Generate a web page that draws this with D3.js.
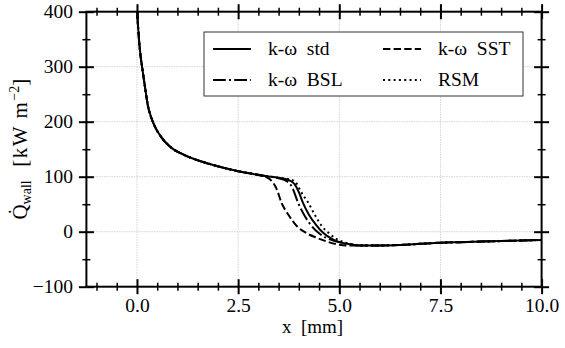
<!DOCTYPE html>
<html>
<head>
<meta charset="utf-8">
<script src="https://cdn.jsdelivr.net/npm/d3@7"></script>
<style>
body { margin: 0; background: #fff; }
</style>
</head>
<body>
<div id="idChart"></div>
<script>
let canvas_w = 565;
let canvas_h = 348;

// Data (x in mm, wall heat flux in kW/m^2)
// -------------------
let head_pts = [
   [0.00, 440], [0.01, 400], [0.04, 360], [0.08, 325], [0.13, 298],
   [0.20, 262], [0.27, 229], [0.35, 208], [0.45, 190], [0.60, 172],
   [0.86, 152], [1.10, 142], [1.38, 133], [1.80, 123], [2.21, 115],
   [2.50, 110], [2.87, 105]
];
let tail_pts = [
   [5.50, -25], [6.00, -25], [6.50, -24], [7.00, -22], [7.50, -20],
   [8.00, -19], [8.50, -18], [9.00, -17], [9.50, -16], [10.00, -15]
];
let std_pts = [
   [3.20, 101], [3.50, 98], [3.78, 93], [3.90, 86], [4.00, 72], [4.10, 53],
   [4.25, 31], [4.44, 11], [4.60, -2], [4.84, -14], [5.00, -19], [5.20, -22]
];
let bsl_pts = [
   [3.20, 101], [3.50, 97], [3.70, 92], [3.82, 83], [3.98, 53], [4.15, 28],
   [4.31, 11], [4.50, -3], [4.77, -14], [5.00, -19], [5.25, -23]
];
let sst_pts = [
   [3.05, 102], [3.20, 99], [3.32, 93], [3.45, 78], [3.57, 53], [3.75, 30],
   [3.94, 11], [4.20, -3], [4.44, -11], [4.70, -18], [4.95, -23], [5.20, -25]
];
let rsm_pts = [
   [3.20, 101], [3.50, 98], [3.80, 95], [3.95, 87], [4.05, 73], [4.23, 53],
   [4.40, 30], [4.56, 11], [4.75, -3], [4.95, -14], [5.15, -20], [5.35, -23]
];

let series_names = ["k-ω  std", "k-ω  SST", "k-ω  BSL", "RSM"];
let series_dash = ["none", "7.4,3.2", "12.8,3.2,2,3.2", "2,3.3"];
let series_pts = [std_pts, sst_pts, bsl_pts, rsm_pts];

let x_domain = [-1.25, 10];
let y_domain = [-100, 400];
let x_major = [0, 2.5, 5, 7.5, 10];
let x_minor = d3.range(-1, 10.01, 0.5);
let y_major = [-100, 0, 100, 200, 300, 400];
let y_minor = d3.range(-100, 401, 50);
// -------------------

let plot_x0 = 86.4;
let plot_x1 = 541.6;
let plot_y0 = 11.7;
let plot_y1 = 286.7;
let font_fam = "Liberation Serif";
let font_size = 19.5;

let svg_obj = d3.select("#idChart")
                .append("svg")
                  .attr("width", canvas_w)
                  .attr("height", canvas_h)
                  .attr("xmlns", "http://www.w3.org/2000/svg");

let x_scale = d3.scaleLinear().domain(x_domain).range([plot_x0, plot_x1]);
let y_scale = d3.scaleLinear().domain(y_domain).range([plot_y1, plot_y0]);

// Grid
// -------------------
let grid_g = svg_obj.append("g")
   .attr("stroke", "#d4d4d4")
   .attr("stroke-width", 1)
   .attr("stroke-dasharray", "1.5,1");
grid_g.selectAll("line.gx")
   .data(x_major.filter(d => d < 10))
   .enter().append("line")
   .attr("x1", d => x_scale(d)).attr("x2", d => x_scale(d))
   .attr("y1", plot_y0).attr("y2", plot_y1);
grid_g.selectAll("line.gy")
   .data(y_major.filter(d => d > -100 && d < 400))
   .enter().append("line")
   .attr("x1", plot_x0).attr("x2", plot_x1)
   .attr("y1", d => y_scale(d)).attr("y2", d => y_scale(d));
// -------------------

// Curves
// -------------------
svg_obj.append("clipPath").attr("id", "plotClip")
   .append("rect")
   .attr("x", plot_x0).attr("y", plot_y0)
   .attr("width", plot_x1 - plot_x0).attr("height", plot_y1 - plot_y0);

let line_gen = d3.line()
   .x(d => x_scale(d[0]))
   .y(d => y_scale(d[1]))
   .curve(d3.curveMonotoneX);

let curves_g = svg_obj.append("g").attr("clip-path", "url(#plotClip)");
series_pts.forEach((pts, i) => {
   let all_pts = head_pts.concat(pts, tail_pts);
   curves_g.append("path")
      .attr("d", line_gen(all_pts))
      .attr("fill", "none")
      .attr("stroke", "#000")
      .attr("stroke-width", 2)
      .attr("stroke-dasharray", series_dash[i]);
});
// -------------------

// Axes (ticks in and out on all four sides)
// -------------------
function draw_axis(axis_fn, scale, vals, size, width, labels, transform, fmt, pad) {
   let ax_out = axis_fn(scale).tickValues(vals).tickSizeOuter(0).tickSize(size)
      .tickPadding(pad).tickFormat(labels ? fmt : "");
   let ax_in = axis_fn(scale).tickValues(vals).tickSizeOuter(0).tickSize(-size)
      .tickFormat("");
   [ax_out, ax_in].forEach(ax => {
      let g = svg_obj.append("g").attr("transform", transform).call(ax)
         .attr("font-family", font_fam);
      g.select(".domain").remove();
      g.selectAll(".tick line").attr("stroke", "#000").attr("stroke-width", width);
      g.selectAll(".tick text")
         .attr("font-size", font_size)
         .attr("fill", "#000");
   });
}

let x_fmt = d3.format(".1f");
let y_fmt = d3.format("d");
let x_minor_only = x_minor.filter(d => x_major.indexOf(d) < 0);
let y_minor_only = y_minor.filter(d => y_major.indexOf(d) < 0);

draw_axis(d3.axisBottom, x_scale, x_major, 7.5, 2, true, `translate(0,${plot_y1})`, x_fmt, 3.5);
draw_axis(d3.axisBottom, x_scale, x_minor_only, 4, 1.5, false, `translate(0,${plot_y1})`, x_fmt, 3.5);
draw_axis(d3.axisTop, x_scale, x_major, 7.5, 2, false, `translate(0,${plot_y0})`, x_fmt, 3.5);
draw_axis(d3.axisTop, x_scale, x_minor_only, 4, 1.5, false, `translate(0,${plot_y0})`, x_fmt, 3.5);
draw_axis(d3.axisLeft, y_scale, y_major, 7.5, 2, true, `translate(${plot_x0},0)`, y_fmt, 6);
draw_axis(d3.axisLeft, y_scale, y_minor_only, 4, 1.5, false, `translate(${plot_x0},0)`, y_fmt, 6);
draw_axis(d3.axisRight, y_scale, y_major, 7.5, 2, false, `translate(${plot_x1},0)`, y_fmt, 6);
draw_axis(d3.axisRight, y_scale, y_minor_only, 4, 1.5, false, `translate(${plot_x1},0)`, y_fmt, 6);

// frame
svg_obj.append("rect")
   .attr("x", plot_x0).attr("y", plot_y0)
   .attr("width", plot_x1 - plot_x0).attr("height", plot_y1 - plot_y0)
   .attr("fill", "none")
   .attr("stroke", "#000")
   .attr("stroke-width", 2);
// -------------------

// Axis labels
// -------------------
svg_obj.append("text")
   .attr("x", 312.5)
   .attr("y", 333)
   .attr("text-anchor", "middle")
   .attr("font-family", font_fam)
   .attr("font-size", 19)
   .attr("xml:space", "preserve")
   .text("x  [mm]");

let ylab = svg_obj.append("text")
   .attr("transform", `translate(27,${(plot_y0 + plot_y1) / 2}) rotate(-90)`)
   .attr("text-anchor", "middle")
   .attr("font-family", font_fam)
   .attr("font-size", 21)
   .attr("xml:space", "preserve");
ylab.append("tspan").text("Q\u0307");
ylab.append("tspan").attr("font-size", 14).attr("dy", 4).text("wall");
ylab.append("tspan").attr("dy", -4).attr("letter-spacing", 1.5).text("  [kW m");
ylab.append("tspan").attr("font-size", 14).attr("dy", -8).text("−2");
ylab.append("tspan").attr("dy", 8).text("]");
// -------------------

// Legend
// -------------------
let leg_g = svg_obj.append("g");
leg_g.append("rect")
   .attr("x", 204).attr("y", 32)
   .attr("width", 319).attr("height", 64)
   .attr("fill", "#fff")
   .attr("stroke", "#333")
   .attr("stroke-width", 1);

let leg_col_x = [213, 383];
let leg_row_y = [49, 80];
series_names.forEach((name, i) => {
   let cx = leg_col_x[i % 2];
   let cy = leg_row_y[Math.floor(i / 2)];
   leg_g.append("line")
      .attr("x1", cx).attr("x2", cx + 38)
      .attr("y1", cy).attr("y2", cy)
      .attr("stroke", "#000")
      .attr("stroke-width", 2)
      .attr("stroke-dasharray", series_dash[i]);
   leg_g.append("text")
      .attr("x", cx + 55).attr("y", cy + 6)
      .attr("font-family", font_fam)
      .attr("font-size", font_size)
      .attr("xml:space", "preserve")
      .text(name);
});
// -------------------
</script>
</body>
</html>
